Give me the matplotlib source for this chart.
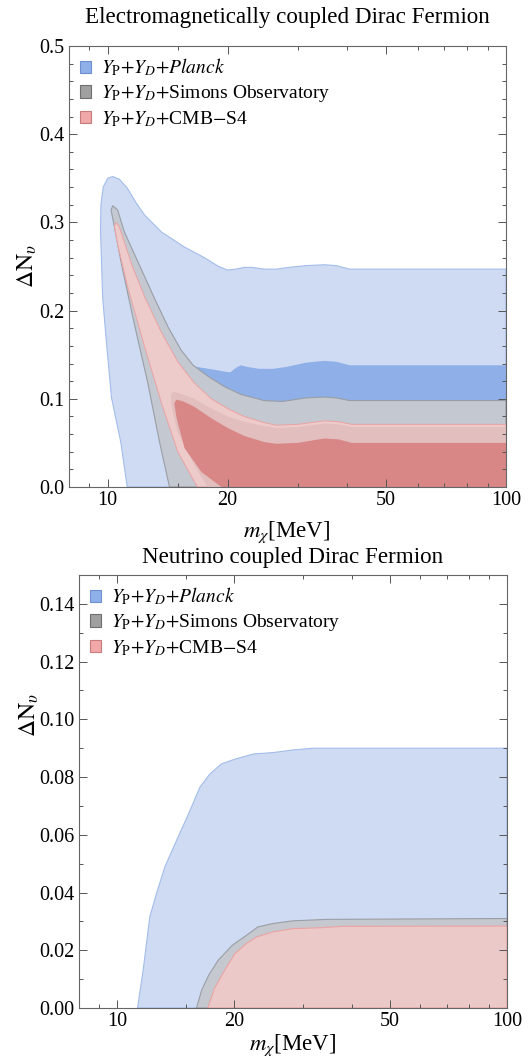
import matplotlib
matplotlib.use("Agg")
import matplotlib.pyplot as plt
from matplotlib.patches import Patch
from matplotlib.ticker import FixedLocator, NullFormatter, FixedFormatter

plt.rcParams["font.family"] = ["Liberation Serif", "DejaVu Serif"]
plt.rcParams["mathtext.fontset"] = "stix"

# ---- top panel: electromagnetically coupled (outlines in m [MeV], dNeff) ----
planck2_m = [11.2, 10.8, 10.23, 9.95, 9.72, 9.6, 9.62, 9.75, 10.0, 10.3, 10.7, 11.2, 11.8,
             12.4, 13.66, 15.6, 17.5, 19.0, 20.0, 21.0, 22.0, 23.0, 24.7, 26.5, 28.5, 31.5,
             35.0, 37.5, 40.5, 100, 100]
planck2_dn = [0.0, 0.05, 0.101, 0.16, 0.214, 0.289, 0.32, 0.34, 0.35, 0.352, 0.349, 0.339, 0.322,
              0.308, 0.289, 0.272, 0.260, 0.250, 0.246, 0.247, 0.249, 0.249, 0.247, 0.247, 0.249,
              0.251, 0.252, 0.251, 0.247, 0.247, 0.0]

planck1_m = [15.5, 15.5, 16.8, 18.5, 19.6, 20.3, 21.0, 21.6, 22.5, 24.0, 26.0, 28.0, 31.5,
             35.0, 37.5, 40.5, 100, 100]
planck1_dn = [0.0, 0.137, 0.136, 0.133, 0.131, 0.130, 0.135, 0.138, 0.136, 0.134, 0.134, 0.136,
              0.141, 0.143, 0.142, 0.138, 0.138, 0.0]

so_m = [14.3, 13.5, 12.6, 11.68, 10.84, 10.35, 10.2, 10.3, 10.6, 11.0, 11.2, 12.2, 13.2, 14.2,
        15.3, 16.4, 17.8, 19.6, 21.6, 24.7, 27.5, 31.5, 35.0, 37.5, 40.5, 100, 100]
so_dn = [0.0, 0.051, 0.119, 0.184, 0.252, 0.300, 0.314, 0.319, 0.314, 0.29, 0.282, 0.245, 0.211,
         0.181, 0.155, 0.138, 0.126, 0.114, 0.105, 0.098, 0.097, 0.101, 0.102, 0.101, 0.098,
         0.098, 0.0]

s4_2_m = [16.8, 15.0, 13.7, 12.4, 11.2, 10.6, 10.4, 10.5, 10.7, 11.5, 12.4, 13.66, 15.0, 16.5,
          18.2, 20.0, 22.0, 24.7, 26.5, 30.0, 35.0, 38.0, 41.0, 100, 100]
s4_2_dn = [0.0, 0.040, 0.093, 0.158, 0.229, 0.275, 0.296, 0.300, 0.295, 0.252, 0.215, 0.175,
           0.142, 0.118, 0.100, 0.089, 0.080, 0.073, 0.070, 0.071, 0.075, 0.074, 0.071, 0.071, 0.0]

s4_halo_m = [17.8, 16.5, 15.0, 14.5, 14.4, 14.6, 15.2, 16.5, 18.2, 20.0, 22.0, 24.7, 26.5, 30.0,
             35.0, 38.0, 41.0, 100, 100]
s4_halo_dn = [0.0, 0.025, 0.062, 0.090, 0.104, 0.108, 0.106, 0.100, 0.089, 0.080, 0.074, 0.069,
              0.067, 0.068, 0.072, 0.071, 0.068, 0.068, 0.0]

s4_1_m = [19.3, 17.2, 15.6, 14.9, 14.7, 14.9, 15.5, 16.5, 18.2, 20.0, 22.0, 24.7, 26.5, 30.0,
          35.0, 38.0, 41.0, 100, 100]
s4_1_dn = [0.0, 0.017, 0.044, 0.078, 0.095, 0.099, 0.097, 0.091, 0.078, 0.067, 0.058, 0.051,
           0.049, 0.050, 0.055, 0.054, 0.050, 0.050, 0.0]

# ---- bottom panel: neutrino coupled ----
nu_planck_m = [11.3, 11.68, 12.15, 12.64, 13.27, 14.22, 15.24, 16.33, 17.3, 18.55, 20.3, 22.4,
               25.2, 28.3, 31.9, 100, 100]
nu_planck_dn = [0.0, 0.0131, 0.0316, 0.0397, 0.0488, 0.058, 0.067, 0.0765, 0.081, 0.0846,
                0.0864, 0.088, 0.0885, 0.0894, 0.090, 0.090, 0.0]

nu_so_m = [16.0, 16.5, 17.2, 18.2, 19.8, 21.5, 23.0, 25.2, 28.3, 34.5, 100, 100]
nu_so_dn = [0.0, 0.0062, 0.0114, 0.0166, 0.0218, 0.0252, 0.0281, 0.0293, 0.0302, 0.0307, 0.031, 0.0]

nu_s4_m = [17.1, 17.8, 18.9, 20.1, 21.5, 22.8, 25.2, 28.3, 33.2, 38.0, 100, 100]
nu_s4_dn = [0.0, 0.0068, 0.0131, 0.0189, 0.0224, 0.0246, 0.0264, 0.0275, 0.0278, 0.0283, 0.0284, 0.0]

LABELS = [r"$Y_{\mathrm{P}}{+}Y_D{+}\mathit{Planck}$",
          r"$Y_{\mathrm{P}}{+}Y_D{+}$Simons Observatory",
          r"$Y_{\mathrm{P}}{+}Y_D{+}$CMB$-$S4"]

LIGHT_BLUE, BLUE_EDGE = "#cfdbf2", "#a3bdea"
DARK_BLUE = "#8eafe8"
GREY, GREY_EDGE = "#c3c8d1", "#9a9ea6"
PINK, PINK_EDGE = "#eecbcb", "#eba3a3"
HALO = "#e2bebe"
RED = "#d98686"

W, H = 528, 1059


def fy(y):
    return 1 - y / H


def style_axes(ax, ymax, ymajor, yminor, yfmt):
    ax.set_xscale("log")
    ax.set_xlim(8, 100)
    ax.set_ylim(0, ymax)
    ax.xaxis.set_major_locator(FixedLocator([10, 20, 50, 100]))
    ax.xaxis.set_major_formatter(FixedFormatter(["10", "20", "50", "100"]))
    ax.xaxis.set_minor_locator(FixedLocator([9, 15, 30, 40, 60, 70, 80, 90]))
    ax.xaxis.set_minor_formatter(NullFormatter())
    ax.yaxis.set_major_locator(FixedLocator(ymajor))
    ax.yaxis.set_major_formatter(FixedFormatter([yfmt % v for v in ymajor]))
    ax.yaxis.set_minor_locator(FixedLocator(yminor))
    ax.tick_params(which="both", direction="in", top=True, right=True, colors="#555555",
                   labelcolor="black", labelsize=14.5, width=0.7)
    ax.tick_params(which="major", length=5.5, pad=3)
    ax.tick_params(which="minor", length=3)
    for s in ax.spines.values():
        s.set_color("#666666")
        s.set_linewidth(0.8)
    handles = [Patch(facecolor=DARK_BLUE, edgecolor="#6d8fcf", lw=0.8),
               Patch(facecolor="#a0a0a0", edgecolor="#6e6e6e", lw=0.8),
               Patch(facecolor="#f0a8a8", edgecolor="#c67c7c", lw=0.8)]
    ax.legend(handles, LABELS, loc="upper left", frameon=False, fontsize=14.0,
              handlelength=0.6, handleheight=0.6, handletextpad=0.5, labelspacing=0.25,
              borderaxespad=0.3, borderpad=0.25)


fig = plt.figure(figsize=(W / 100, H / 100), dpi=100)

ax1 = fig.add_axes([69 / W, fy(487), (506 - 69) / W, (487 - 46) / H])
ax1.fill(planck2_m, planck2_dn, facecolor=LIGHT_BLUE, edgecolor=BLUE_EDGE, lw=0.8)
ax1.fill(planck1_m, planck1_dn, facecolor=DARK_BLUE, edgecolor="none")
ax1.fill(so_m, so_dn, facecolor=GREY, edgecolor=GREY_EDGE, lw=0.8)
ax1.fill(s4_2_m, s4_2_dn, facecolor=PINK, edgecolor=PINK_EDGE, lw=0.7)
ax1.fill(s4_halo_m, s4_halo_dn, facecolor=HALO, edgecolor="none")
ax1.fill(s4_1_m, s4_1_dn, facecolor=RED, edgecolor="none")
style_axes(ax1, 0.5, [0.0, 0.1, 0.2, 0.3, 0.4, 0.5],
           [i * 0.02 for i in range(26)], "%.1f")

ax2 = fig.add_axes([79 / W, fy(1008), (507 - 79) / W, (1008 - 575) / H])
ax2.fill(nu_planck_m, nu_planck_dn, facecolor=LIGHT_BLUE, edgecolor=BLUE_EDGE, lw=0.8)
ax2.fill(nu_so_m, nu_so_dn, facecolor="#c6c8cf", edgecolor=GREY_EDGE, lw=0.8)
ax2.fill(nu_s4_m, nu_s4_dn, facecolor="#ecc9c9", edgecolor=PINK_EDGE, lw=0.8)
style_axes(ax2, 0.15, [i * 0.02 for i in range(8)],
           [i * 0.01 for i in range(16)], "%.2f")

fig.text(287 / W, fy(18), "Electromagnetically coupled Dirac Fermion", ha="center", va="center",
         fontsize=16.6)
fig.text(293 / W, fy(557), "Neutrino coupled Dirac Fermion", ha="center", va="center",
         fontsize=16.6)
fig.text(287 / W, fy(532), r"$m_\chi$[MeV]", ha="center", va="center", fontsize=16.5)
fig.text(293 / W, fy(1045), r"$m_\chi$[MeV]", ha="center", va="center", fontsize=16.5)
fig.text(27 / W, fy(266), r"$\Delta\mathrm{N}_\upsilon$", ha="center", va="center",
         rotation=90, fontsize=17)
fig.text(29 / W, fy(715), r"$\Delta\mathrm{N}_\upsilon$", ha="center", va="center",
         rotation=90, fontsize=17)

fig.savefig("out.png", dpi=100)
